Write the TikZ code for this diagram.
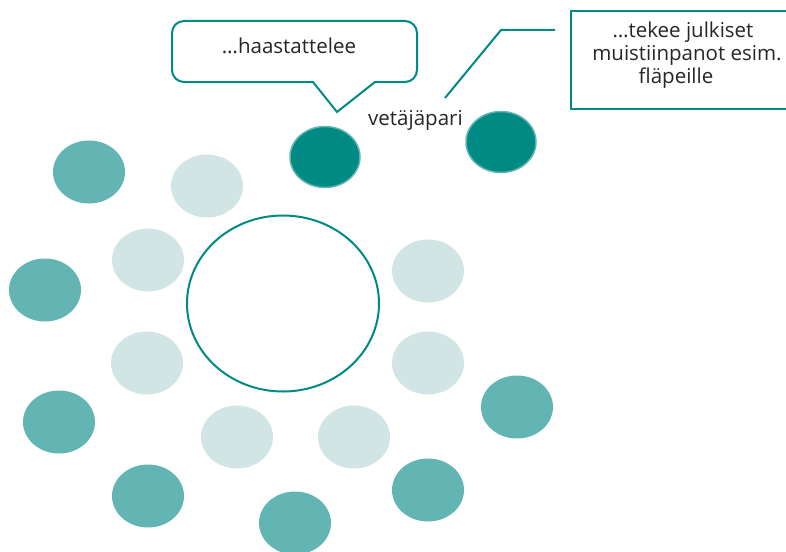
\documentclass[tikz,border=0pt]{standalone}
\usepackage{fontspec}
\setmainfont{Open Sans}
\usetikzlibrary{shapes.geometric}
\definecolor{tdark}{HTML}{008A84}
\definecolor{tmed}{HTML}{62B5B3}
\definecolor{tlight}{HTML}{D1E6E4}
\tikzset{
  blob/.style={ellipse, minimum width=72pt, minimum height=63pt, inner sep=0pt},
  darkblob/.style={blob, fill=tdark, draw=tmed, line width=1.5pt, minimum width=70pt, minimum height=61pt},
  medblob/.style={blob, fill=tmed},
  lightblob/.style={blob, fill=tlight},
  lbl/.style={font=\fontsize{20.5}{23}\selectfont, text=black!85, align=center, inner sep=0pt},
  callline/.style={draw=tdark, line width=2pt}
}
\begin{document}
\begin{tikzpicture}[x=1pt,y=-1pt]
\useasboundingbox (0,0) rectangle (786,551);
% big circle
\node[ellipse, draw=tdark, line width=2pt, minimum width=192pt, minimum height=176pt, inner sep=0pt] (big) at (283,303.5) {};
% light blobs
\node[lightblob] (l1) at (207,186) {};
\node[lightblob] (l2) at (148,260) {};
\node[lightblob] (l3) at (147,363) {};
\node[lightblob] (l4) at (237,437) {};
\node[lightblob] (l5) at (354,437) {};
\node[lightblob] (l6) at (428,363) {};
\node[lightblob] (l7) at (428,271) {};
% medium blobs
\node[medblob] (m1) at (89,172) {};
\node[medblob] (m2) at (45,290) {};
\node[medblob] (m3) at (59,422) {};
\node[medblob] (m4) at (148,496) {};
\node[medblob] (m5) at (295,523) {};
\node[medblob] (m6) at (428,490) {};
\node[medblob] (m7) at (517,407) {};
% dark blobs
\node[darkblob] (d1) at (325,157) {};
\node[darkblob] (d2) at (501,142) {};
% label
\node[lbl, anchor=west] (vp) at (368,120) {vetäjäpari};
% callout 1
\coordinate (c1a) at (313,82);
\coordinate (c1b) at (375,82);
\coordinate (c1tip) at (337,112);
\draw[callline, fill=white, rounded corners=12pt] (172,21) rectangle (417,82);
\fill[white] (314,79) rectangle (374,85);
\draw[callline, line join=miter] (c1a) -- (c1tip) -- (c1b);
\node[lbl] (t1) at (289,46) {…haastattelee};
% callout 2
\node[draw=tdark, line width=2pt, minimum width=230pt, minimum height=98pt, anchor=north west, inner sep=0pt] (box2) at (570,10) {};
\node[lbl, anchor=north] (t2) at (687,22) {\hspace*{-8pt}…tekee julkiset\\ muistiinpanot esim.\\ \hspace*{-22pt}fläpeille};
\coordinate (k1) at (555,30);
\coordinate (k2) at (501,30);
\coordinate (k3) at (445,98);
\draw[callline] (k1) -- (k2) -- (k3);
\end{tikzpicture}
\end{document}
